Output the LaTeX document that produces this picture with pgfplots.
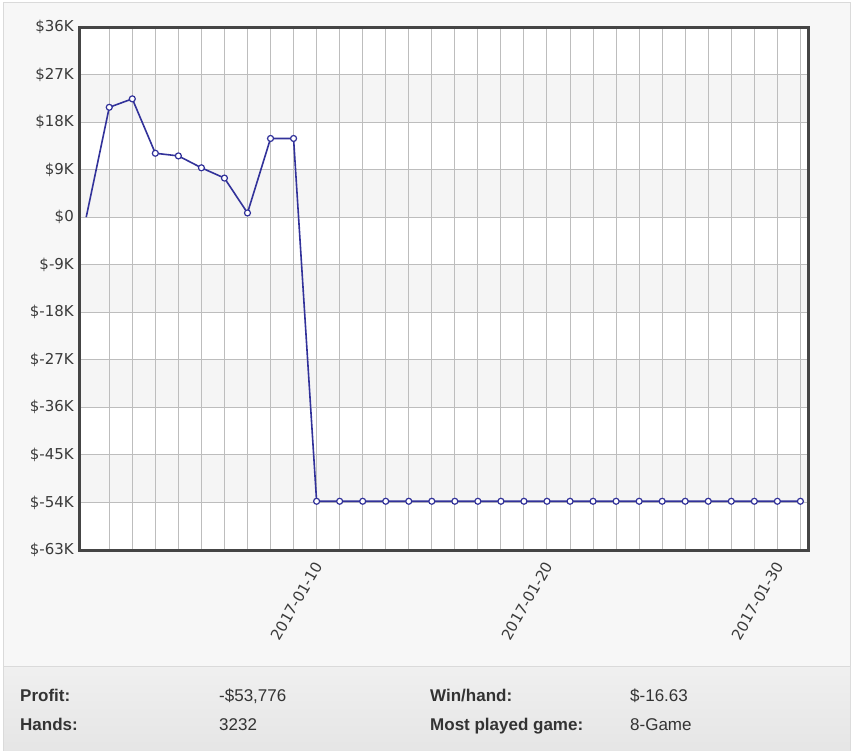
\documentclass[border=0pt]{standalone}
\usepackage{pgfplots}
\pgfplotsset{compat=1.18}
\usepackage{fontspec}
\setmainfont{DejaVu Sans}
\newfontfamily\footfont{Liberation Sans}
\definecolor{linec}{HTML}{32329A}
\definecolor{panel}{HTML}{F7F7F7}
\definecolor{borderc}{HTML}{DADADA}
\definecolor{gridc}{HTML}{BDBDBD}
\definecolor{framec}{HTML}{454545}
\definecolor{ticktext}{HTML}{3A3A3A}
\definecolor{bandc}{HTML}{F5F5F5}
\definecolor{footc}{HTML}{333333}
\begin{document}
\begin{tikzpicture}
\useasboundingbox (0pt,0pt) rectangle (854pt,753pt);
\fill[white] (0pt,0pt) rectangle (854pt,753pt);
\filldraw[fill=panel, draw=borderc, line width=1pt] (3.5pt,2.5pt) rectangle (850.5pt,750.5pt);
\shade[top color=black!6, bottom color=black!10] (4pt,3pt) rectangle (850pt,87pt);
\draw[borderc, line width=1pt] (4pt,87pt) -- (850pt,87pt);
% plot background with alternating bands
\fill[white] (80pt,203pt) rectangle (808pt,726pt);
\fill[bandc] (80pt,630.9pt) rectangle (808pt,678.5pt);
\fill[bandc] (80pt,535.8pt) rectangle (808pt,583.4pt);
\fill[bandc] (80pt,440.7pt) rectangle (808pt,488.3pt);
\fill[bandc] (80pt,345.6pt) rectangle (808pt,393.2pt);
\fill[bandc] (80pt,250.5pt) rectangle (808pt,298.1pt);
\begin{axis}[
  at={(80pt,203pt)}, anchor=south west,
  width=728pt, height=523pt, scale only axis,
  xmin=-0.27, xmax=31.33, ymin=-63, ymax=36,
  xtick={10,20,30},
  xticklabels={2017-01-10,2017-01-20,2017-01-30},
  minor xtick={1,...,31},
  ytick={-63,-54,-45,-36,-27,-18,-9,0,9,18,27,36},
  yticklabels={\$-63K,\$-54K,\$-45K,\$-36K,\$-27K,\$-18K,\$-9K,\$0,\$9K,\$18K,\$27K,\$36K},
  grid=both,
  major grid style={draw=gridc, line width=1pt},
  minor grid style={draw=gridc, line width=1pt},
  major tick length=0pt, minor tick length=0pt,
  axis line style={draw=framec, line width=3pt},
  tick label style={font=\fontsize{15}{17}\selectfont, text=ticktext},
  yticklabel style={anchor=east, inner sep=0pt, xshift=-6pt},
  xticklabel style={yshift=-13pt, xshift=2pt, rotate=60, anchor=east, inner sep=0pt},
]
\addplot[color=linec, line width=1.6pt, mark=none] coordinates {(0,0) (1,20.8)};
\addplot[color=linec, line width=1.6pt, mark=*, mark size=3pt,
  mark options={fill=white, draw=linec, line width=1.2pt}]
  coordinates {
  (1,20.8) (2,22.4) (3,12.1) (4,11.6) (5,9.35) (6,7.4) (7,0.8) (8,14.9) (9,14.9)
  (10,-53.776) (11,-53.776) (12,-53.776) (13,-53.776) (14,-53.776) (15,-53.776)
  (16,-53.776) (17,-53.776) (18,-53.776) (19,-53.776) (20,-53.776) (21,-53.776)
  (22,-53.776) (23,-53.776) (24,-53.776) (25,-53.776) (26,-53.776) (27,-53.776)
  (28,-53.776) (29,-53.776) (30,-53.776) (31,-53.776)
  };
\end{axis}
\begin{scope}[font=\footfont\fontsize{17}{20}\selectfont, text=footc]
\node[anchor=base west, inner sep=0pt, font=\footfont\bfseries\fontsize{17}{20}\selectfont] at (20pt,51.3pt) {Profit:};
\node[anchor=base west, inner sep=0pt, font=\footfont\bfseries\fontsize{17}{20}\selectfont] at (20pt,22.3pt) {Hands:};
\node[anchor=base west, inner sep=0pt] at (219pt,51.3pt) {-\$53,776};
\node[anchor=base west, inner sep=0pt] at (219pt,22.3pt) {3232};
\node[anchor=base west, inner sep=0pt, font=\footfont\bfseries\fontsize{17}{20}\selectfont] at (430pt,51.3pt) {Win/hand:};
\node[anchor=base west, inner sep=0pt, font=\footfont\bfseries\fontsize{17}{20}\selectfont] at (430pt,22.3pt) {Most played game:};
\node[anchor=base west, inner sep=0pt] at (630pt,51.3pt) {\$-16.63};
\node[anchor=base west, inner sep=0pt] at (630pt,22.3pt) {8-Game};
\end{scope}
\end{tikzpicture}
\end{document}
